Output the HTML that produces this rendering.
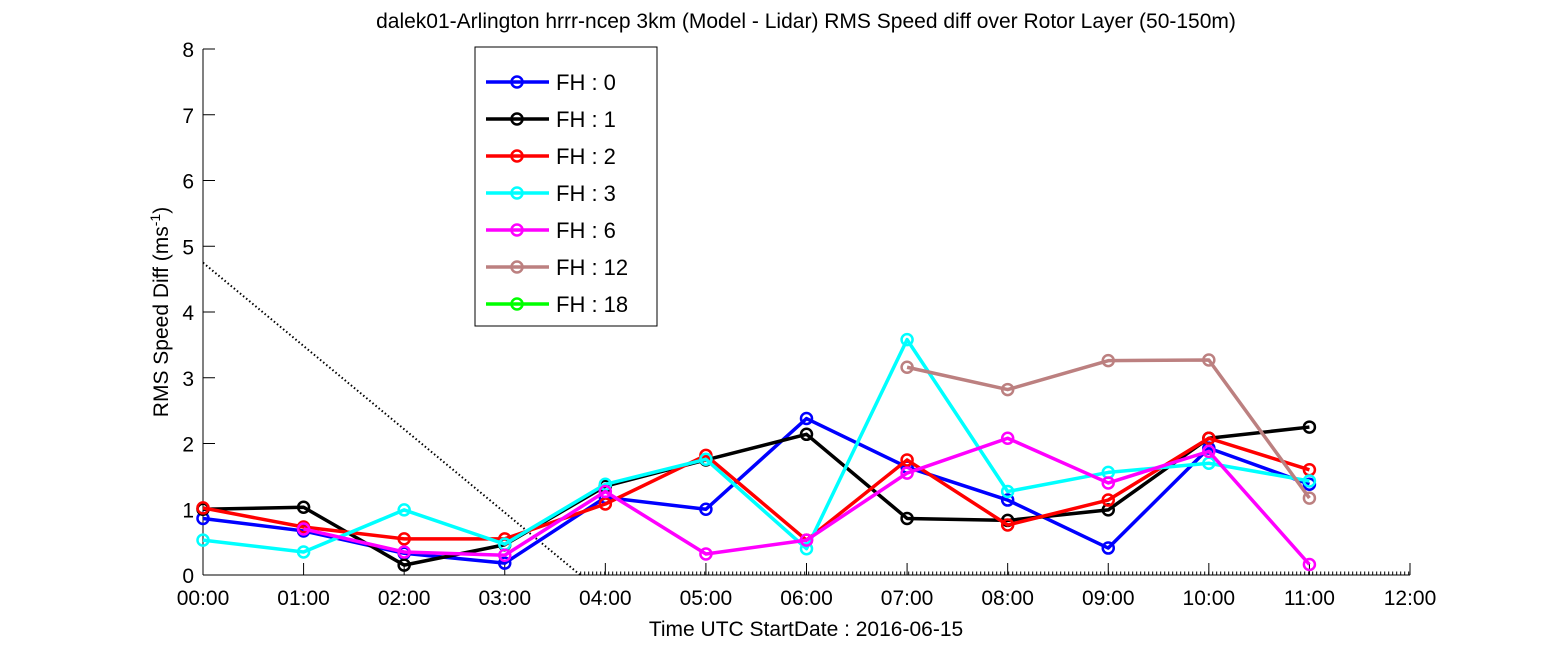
<!DOCTYPE html>
<html><head><meta charset="utf-8"><style>
body{margin:0;background:#fff;width:1559px;height:656px;overflow:hidden;font-family:"Liberation Sans",sans-serif}
svg text{font-family:"Liberation Sans",sans-serif;fill:#000}
</style></head><body>
<svg id="chart" width="1559" height="656" xmlns="http://www.w3.org/2000/svg">
<text x="806" y="28" font-size="21" text-anchor="middle">dalek01-Arlington hrrr-ncep 3km (Model - Lidar) RMS Speed diff over Rotor Layer (50-150m)</text>
<g id="axes"></g>
<g id="series"></g>
<text x="806" y="636" font-size="21" text-anchor="middle">Time UTC    StartDate : 2016-06-15</text>
<text transform="translate(168,312) rotate(-90)" font-size="21" text-anchor="middle">RMS Speed Diff (ms<tspan dy="-8" font-size="14">-1</tspan><tspan dy="8">)</tspan></text>
<g id="legend"></g>
</svg>
<script>
const hours=[0,1,2,3,4,5,6,7,8,9,10,11];
const xTickLabels=["00:00","01:00","02:00","03:00","04:00","05:00","06:00","07:00","08:00","09:00","10:00","11:00","12:00"];
const yTicks=[0,1,2,3,4,5,6,7,8];
const seriesNames=["FH : 0","FH : 1","FH : 2","FH : 3","FH : 6","FH : 12","FH : 18"];
const seriesColors=["#0000ff","#000000","#ff0000","#00ffff","#ff00ff","#bc8080","#00ff00"];
const fh0=[0.86,0.67,0.33,0.18,1.18,1.0,2.38,1.64,1.14,0.41,1.93,1.38];
const fh1=[1.0,1.03,0.15,0.46,1.35,1.75,2.14,0.86,0.83,0.99,2.08,2.25];
const fh2=[1.02,0.73,0.55,0.55,1.08,1.82,0.53,1.75,0.76,1.14,2.08,1.6];
const fh3=[0.53,0.35,0.99,0.47,1.38,1.76,0.4,3.58,1.27,1.56,1.7,1.43];
const fh6=[null,0.7,0.35,0.3,1.27,0.32,0.53,1.55,2.08,1.4,1.88,0.16];
const fh12=[null,null,null,null,null,null,null,3.16,2.82,3.26,3.27,1.17];
const fh18=[null,null,null,null,null,null,null,null,null,null,null,null];
const refLine=[[0,4.75],[3.75,0]];
const NS="http://www.w3.org/2000/svg";
const X=h=>203+h*(1410-203)/12;
const Y=v=>575-v*(575-49)/8;
function mk(tag,attrs,parent){const e=document.createElementNS(NS,tag);for(const k in attrs)e.setAttribute(k,attrs[k]);parent.appendChild(e);return e;}
const axes=document.getElementById('axes');
let e=mk('line',{x1:203,y1:49,x2:203,y2:575,stroke:'#000','stroke-width':1},axes);


e=mk('line',{x1:203,y1:575,x2:1410,y2:575,stroke:'#000','stroke-width':1},axes);


yTicks.forEach(v=>{
 let t=mk('line',{x1:203,y1:Y(v),x2:215,y2:Y(v),stroke:'#000'},axes);
 
 
 let l=mk('text',{x:194,y:Y(v)+8,'font-size':21,'text-anchor':'end'},axes);l.textContent=v;
 
 
});
xTickLabels.forEach((s,i)=>{
 let t=mk('line',{x1:X(i),y1:575,x2:X(i),y2:563,stroke:'#000'},axes);
 
 
 let l=mk('text',{x:X(i),y:605,'font-size':21,'text-anchor':'middle'},axes);l.textContent=s;
 
 
});
// reference dotted line
e=mk('line',{x1:X(refLine[0][0]),y1:Y(refLine[0][1]),x2:X(refLine[1][0]),y2:Y(refLine[1][1]),stroke:'#000','stroke-width':2,'stroke-dasharray':'1.5,2.5'},axes);


e=mk('line',{x1:X(refLine[1][0]),y1:573,x2:X(12),y2:573,stroke:'#000','stroke-width':3,'stroke-dasharray':'1,3'},axes);


const all=[fh0,fh1,fh2,fh3,fh6,fh12,fh18];
const sg=document.getElementById('series');
all.forEach((arr,si)=>{
 const g=mk('g',{},sg);
 
 
 const pts=[];arr.forEach((v,i)=>{if(v!==null)pts.push([X(hours[i]),Y(v)]);});
 if(pts.length>1){const p=mk('polyline',{points:pts.map(p=>p.join(',')).join(' '),fill:'none',stroke:seriesColors[si],'stroke-width':3.5,'stroke-linejoin':'round'},g);
  
  }
 pts.forEach(p=>{const c=mk('circle',{cx:p[0],cy:p[1],r:5.5,fill:'none',stroke:seriesColors[si],'stroke-width':2.5},g);
  
  });
});
const lg=document.getElementById('legend');


mk('rect',{x:475,y:47,width:182,height:279,fill:'#fff',stroke:'#000'},lg);
seriesNames.forEach((n,i)=>{
 const y=82+i*37;
 const g=mk('g',{},lg);
 
 
 mk('line',{x1:486,y1:y,x2:549,y2:y,stroke:seriesColors[i],'stroke-width':3.5},g);
 mk('circle',{cx:517,cy:y,r:5.5,fill:'none',stroke:seriesColors[i],'stroke-width':2.5},g);
 const t=mk('text',{x:556,y:y+8,'font-size':22},g);t.textContent=n;
});
</script>
</body></html>
